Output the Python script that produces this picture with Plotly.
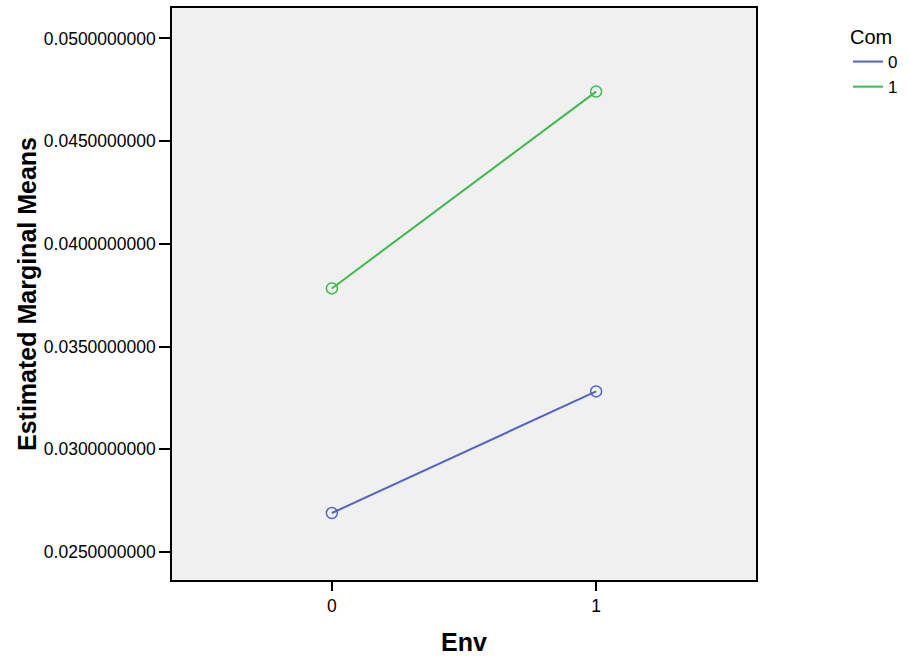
import plotly.graph_objects as go

env = [0, 1]
com_labels = ["0", "1"]
means_com0 = [0.02690, 0.03282]
means_com1 = [0.03783, 0.04741]
colors = ["#5064C2", "#3DBA4B"]

fig = go.Figure()
for lab, vals, c in zip(com_labels, [means_com0, means_com1], colors):
    fig.add_trace(go.Scatter(
        x=env, y=vals, name=lab, mode="lines+markers", showlegend=False,
        line=dict(color=c, width=2),
        marker=dict(symbol="circle-open", size=11, color=c, line=dict(width=1.5, color=c)),
    ))
# legend entries (lines only, as in the reference legend)
for lab, c in zip(com_labels, colors):
    fig.add_trace(go.Scatter(
        x=[None], y=[None], name=lab, mode="lines",
        line=dict(color=c, width=2), showlegend=True,
    ))

fig.update_layout(
    width=909, height=662,
    margin=dict(l=172, r=153, t=8, b=82, autoexpand=False),
    paper_bgcolor="white", plot_bgcolor="#F0F0F0",
    font=dict(family="Liberation Sans, Arial, sans-serif", color="black", size=17),
    showlegend=True,
    legend=dict(
        title=dict(text="Com", font=dict(size=20), side="top"),
        x=1.1575, y=0.9825, xanchor="left", yanchor="top",
        font=dict(size=17), bgcolor="rgba(0,0,0,0)", itemwidth=30,
        tracegroupgap=0,
    ),
)
fig.update_xaxes(
    range=[-0.605, 1.605], tickvals=env, ticktext=["0", "1"],
    showgrid=False, zeroline=False, showline=True, linecolor="black", linewidth=1.5,
    mirror=True, ticks="outside", ticklen=9, tickcolor="black", tickwidth=1.5,
    tickfont=dict(size=17.5),
    title=dict(text="<b>Env</b>", font=dict(size=25), standoff=19),
)
fig.update_yaxes(
    range=[0.02364, 0.05148], tick0=0.025, dtick=0.005, tickformat=".10f",
    showgrid=False, zeroline=False, showline=True, linecolor="black", linewidth=1.5,
    mirror=True, ticks="outside", ticklen=11, tickcolor="black", tickwidth=1.5,
    tickfont=dict(size=17.5),
    title=dict(text="<b>Estimated Marginal Means</b>", font=dict(size=25), standoff=0),
)

fig.write_html("out.html", config={"displayModeBar": False},
               post_script="document.body.style.margin='0';")
